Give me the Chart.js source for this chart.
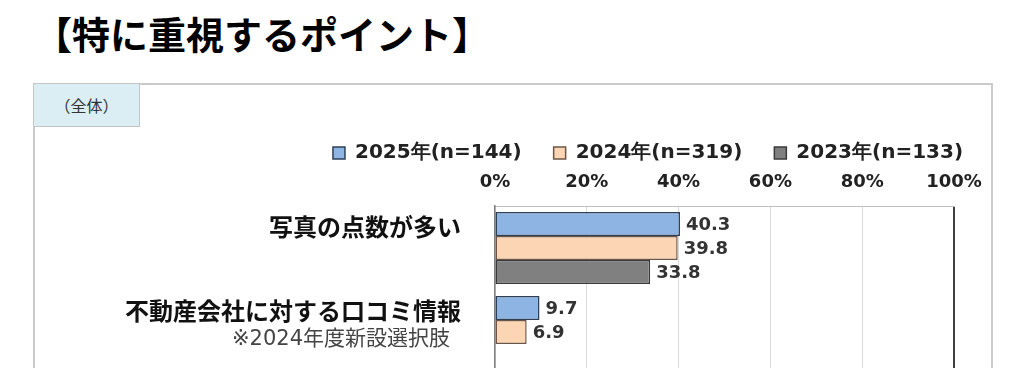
<!DOCTYPE html>
<html lang="ja">
<head>
<meta charset="utf-8">
<script src="https://cdn.jsdelivr.net/npm/chart.js@4.4.1/dist/chart.umd.min.js"></script>
<style>
  body { margin: 0; background: #fff; }
  #page { position: relative; width: 1024px; height: 391px; overflow: hidden; background: #fff; }
  #title {
    position: absolute; left: 34px; top: 10px;
    font-family: "Noto Sans CJK JP"; font-weight: bold; font-size: 38px; line-height: 46px;
    color: #000; white-space: nowrap;
  }
  #wrap { position: absolute; left: 0; top: 0; width: 1024px; height: 368px; overflow: hidden; }
  #frame {
    position: absolute; left: 33px; top: 83px; width: 960px; height: 400px;
    border: 2px solid #cbcbcb; box-sizing: border-box;
  }
  #tag {
    position: absolute; left: 33px; top: 83px; width: 107px; height: 44px; box-sizing: border-box;
    background: #daeef3; border: 1px solid #c4c4c4;
    font-family: "Noto Sans CJK JP"; font-size: 16px; color: #333;
    display: flex; align-items: center; justify-content: center;
  }
  #chart { position: absolute; left: 0; top: 0; }
</style>
</head>
<body>
<div id="page">
  <div id="title">【特に重視するポイント】</div>
  <div id="wrap">
    <div id="frame"></div>
    <div id="tag">（全体）</div>
    <canvas id="chart" width="1024" height="380"></canvas>
  </div>
</div>
<script>
const categories = ['写真の点数が多い', '不動産会社に対する口コミ情報'];
const notes = ['', '※2024年度新設選択肢'];
const seriesNames = ['2025年(n=144)', '2024年(n=319)', '2023年(n=133)'];
const values2025 = [40.3, 9.7];
const values2024 = [39.8, 6.9];
const values2023 = [33.8, null];
const xTicks = [0, 20, 40, 60, 80, 100];

// category names, note line and value labels
const textPlugin = {
  id: 'texts',
  afterDatasetsDraw(chart) {
    const ctx = chart.ctx;
    const yScale = chart.scales.y;
    const left = chart.chartArea.left;
    ctx.save();
    ctx.textAlign = 'right';
    ctx.textBaseline = 'middle';
    categories.forEach((name, i) => {
      const py = yScale.getPixelForValue(i);
      ctx.font = 'bold 24px "Noto Sans CJK JP"';
      ctx.fillStyle = '#111';
      ctx.fillText(name, left - 34, py - 21);
      if (notes[i]) {
        ctx.font = '21px "DejaVu Sans", "Noto Sans CJK JP"';
        ctx.fillStyle = '#444';
        ctx.fillText(notes[i], left - 45, py + 8);
      }
    });

    ctx.textAlign = 'left';
    ctx.font = 'bold 18px "DejaVu Sans"';
    ctx.fillStyle = '#333';
    chart.data.datasets.forEach((ds, di) => {
      chart.getDatasetMeta(di).data.forEach((bar, i) => {
        if (ds.data[i] == null) return;
        ctx.fillText(ds.data[i].toFixed(1), bar.x + 6, bar.y + 1);
      });
    });
    ctx.restore();
  }
};

const ctx = document.getElementById('chart').getContext('2d');
const chart = new Chart(ctx, {
  type: 'bar',
  data: {
    labels: categories,
    datasets: [
      { label: seriesNames[0], data: values2025, backgroundColor: '#8db4e2', borderColor: '#2e4057' },
      { label: seriesNames[1], data: values2024, backgroundColor: '#fcd5b4', borderColor: '#6b5647' },
      { label: seriesNames[2], data: values2023, backgroundColor: '#808080', borderColor: '#3a3a3a' }
    ]
  },
  options: {
    indexAxis: 'y',
    responsive: false,
    animation: false,
    devicePixelRatio: 1,
    layout: { padding: { left: 292, right: 20, top: 111, bottom: 6 } },
    datasets: {
      bar: { borderWidth: 1.5, borderSkipped: false, barPercentage: 1, categoryPercentage: 0.857 }
    },
    scales: {
      x: {
        position: 'top',
        min: 0,
        max: 100,
        afterBuildTicks: s => { s.ticks = xTicks.map(v => ({ value: v })); },
        afterFit: s => { s.height = 33; },
        ticks: {
          callback: v => v + '%',
          font: { family: 'DejaVu Sans', size: 18, weight: 'bold' },
          color: '#222',
          padding: 13,
          maxRotation: 0
        },
        grid: {
          drawTicks: false,
          color: c => (c.tick && c.tick.value === 100 ? '#404040' : '#d9d9d9'),
          lineWidth: c => (c.tick && c.tick.value === 100 ? 2 : 1)
        },
        border: { color: '#bfbfbf', width: 1 }
      },
      y: {
        ticks: { display: false },
        grid: { display: false },
        border: { color: '#7f7f7f', width: 1.5 },
        afterFit: s => { s.width = 203; }
      },
      // empty right-hand axis, only keeps the plot narrower than the legend row
      yRight: {
        type: 'category',
        axis: 'y',
        position: 'right',
        ticks: { display: false },
        grid: { display: false },
        border: { display: false },
        afterFit: s => { s.width = 50; }
      }
    },
    plugins: {
      legend: {
        position: 'top',
        labels: {
          boxWidth: 12,
          boxHeight: 12,
          padding: 32,
          color: '#222',
          font: { family: 'DejaVu Sans', size: 20, weight: 'bold' }
        }
      },
      tooltip: { enabled: false }
    }
  },
  plugins: [textPlugin]
});
</script>
</body>
</html>
